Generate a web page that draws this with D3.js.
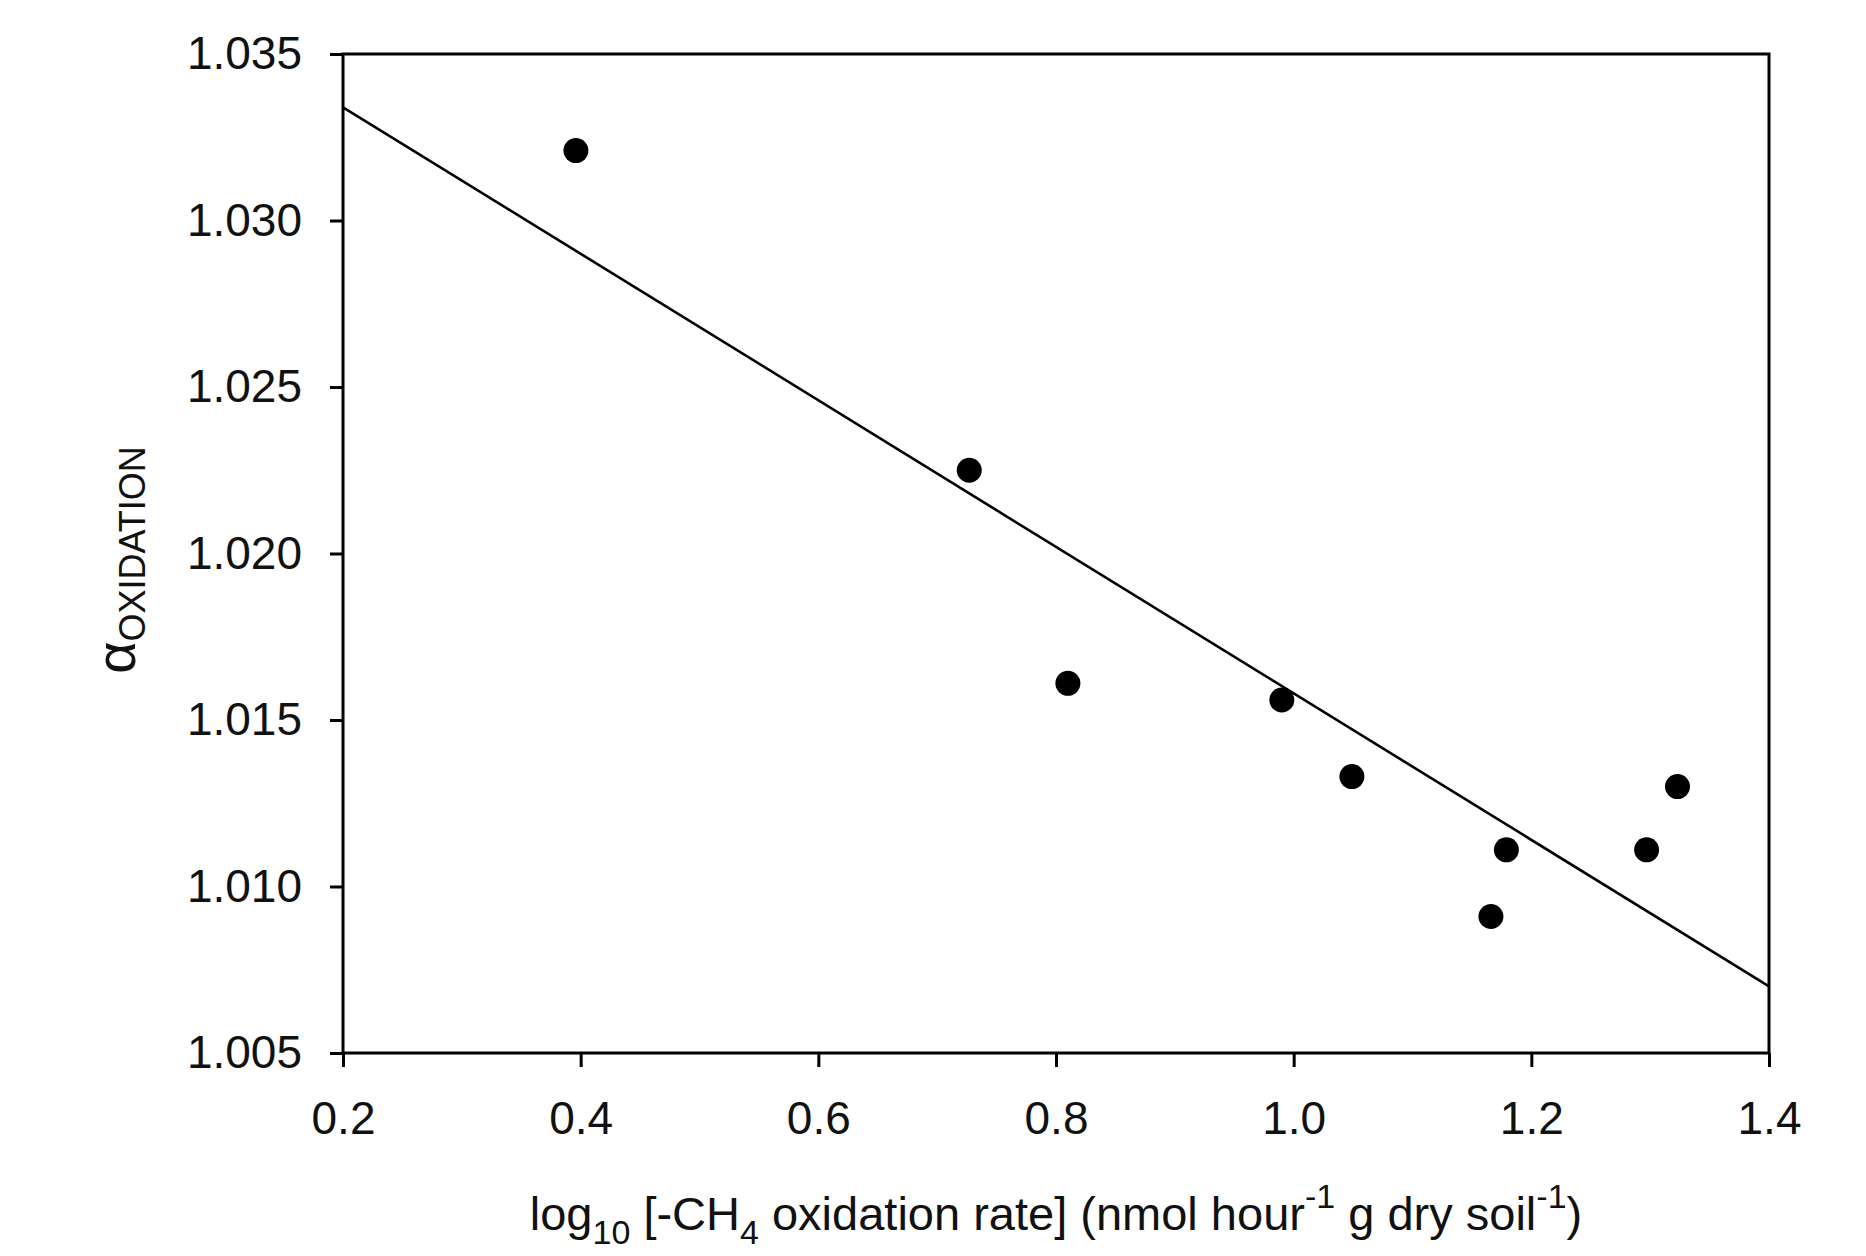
<!DOCTYPE html>
<html>
<head>
<meta charset="utf-8">
<script src="https://cdn.jsdelivr.net/npm/d3@7"></script>
<style>
  body { margin: 0; background: #fff; }
  svg { display: block; font-family: "Liberation Sans", Arial, sans-serif; }
  .axis path, .axis line { stroke: #000; stroke-width: 3; }
  .axis text { fill: #111; font-size: 46px; }
</style>
</head>
<body>
<div id="chart"></div>
<script>
// data
const rateLog = [0.396, 0.727, 0.810, 0.990, 1.049, 1.166, 1.179, 1.297, 1.323]
const alphaOx = [1.0321, 1.0225, 1.0161, 1.0156, 1.0133, 1.0091, 1.0111, 1.0111, 1.0130]
const fitX = [0.2, 1.4]
const fitY = [1.0334, 1.0070]
const xTicks = [0.2, 0.4, 0.6, 0.8, 1.0, 1.2, 1.4]
const yTicks = [1.005, 1.010, 1.015, 1.020, 1.025, 1.030, 1.035]

const margin = { top: 54, bottom: 203, right: 97, left: 343 }
const fullW = 1866, fullH = 1256
const width = fullW - margin.left - margin.right
const height = fullH - margin.top - margin.bottom

const svg = d3.select('#chart').append('svg')
  .attr('width', fullW)
  .attr('height', fullH)

const g = svg.append('g')
  .attr('transform', `translate(${margin.left}, ${margin.top})`)

const x = d3.scaleLinear().domain([0.2, 1.4]).range([0, width])
const y = d3.scaleLinear().domain([1.005, 1.035]).range([height, 0])

// frame
g.append('rect')
  .attr('x', 0).attr('y', 0)
  .attr('width', width).attr('height', height)
  .attr('fill', 'none')
  .attr('stroke', '#000')
  .attr('stroke-width', 3)

g.append('g')
  .attr('class', 'axis')
  .attr('transform', `translate(0, ${height})`)
  .call(d3.axisBottom(x).tickValues(xTicks).tickFormat(d3.format('.1f'))
    .tickSize(14).tickSizeOuter(0).tickPadding(34))

g.append('g')
  .attr('class', 'axis')
  .call(d3.axisLeft(y).tickValues(yTicks).tickFormat(d3.format('.3f'))
    .tickSize(13).tickSizeOuter(0).tickPadding(28))

g.selectAll('.axis .domain').remove()

// regression line
g.append('line')
  .attr('x1', x(fitX[0])).attr('y1', y(fitY[0]))
  .attr('x2', x(fitX[1])).attr('y2', y(fitY[1]))
  .attr('stroke', '#000')
  .attr('stroke-width', 2.6)

g.selectAll('circle.pt')
  .data(rateLog.map((v, i) => [v, alphaOx[i]]))
  .enter().append('circle')
  .attr('class', 'pt')
  .attr('cx', d => x(d[0]))
  .attr('cy', d => y(d[1]))
  .attr('r', 12.5)
  .attr('fill', '#000')

// x axis title
const xt = svg.append('text')
  .attr('x', margin.left + width / 2)
  .attr('y', 1230)
  .attr('text-anchor', 'middle')
  .attr('font-size', 47)
  .attr('fill', '#111')
xt.append('tspan').text('log')
xt.append('tspan').attr('font-size', 34).attr('dy', 14).text('10')
xt.append('tspan').attr('dy', -14).text(' [-CH')
xt.append('tspan').attr('font-size', 34).attr('dy', 14).text('4')
xt.append('tspan').attr('dy', -14).text(' oxidation rate] (nmol hour')
xt.append('tspan').attr('font-size', 34).attr('dy', -22).text('-1')
xt.append('tspan').attr('dy', 22).text(' g dry soil')
xt.append('tspan').attr('font-size', 34).attr('dy', -22).text('-1')
xt.append('tspan').attr('dy', 22).text(')')

// y axis title
const yt = svg.append('text')
  .attr('transform', `translate(135, 560) rotate(-90)`)
  .attr('text-anchor', 'middle')
  .attr('fill', '#111')
yt.append('tspan').attr('font-size', 56).text('α')
yt.append('tspan').attr('font-size', 36).attr('dy', 10).text('OXIDATION')
</script>
</body>
</html>
